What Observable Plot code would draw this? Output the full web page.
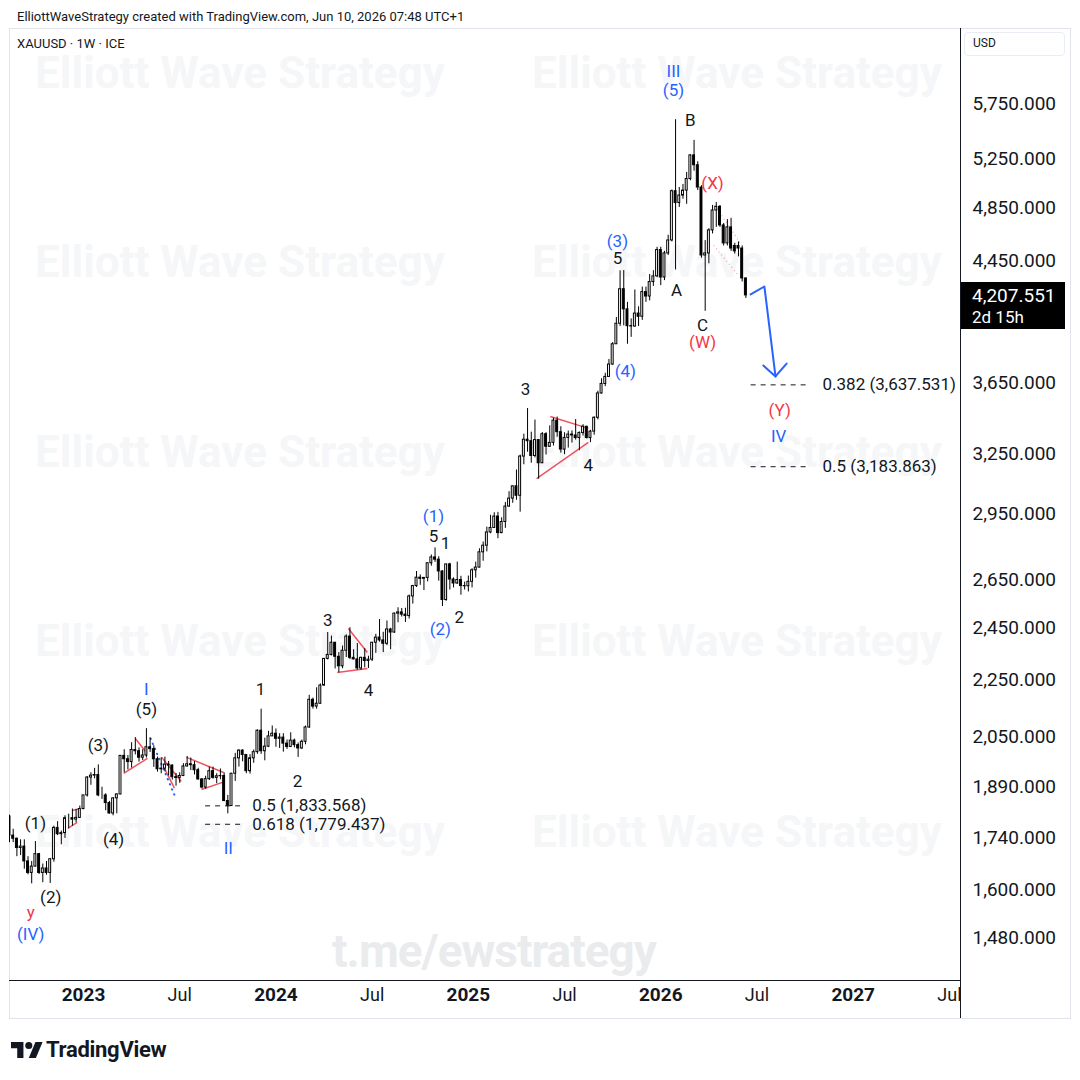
<!DOCTYPE html>
<html>
<head>
<meta charset="utf-8">
<script src="https://cdn.jsdelivr.net/npm/d3@7"></script>
<script src="https://cdn.jsdelivr.net/npm/@observablehq/plot@0.6"></script>
<style>
html,body{margin:0;padding:0;background:#fff;}
#root{position:relative;width:1080px;height:1080px;overflow:hidden;background:#fff;font-family:Roboto,"Liberation Sans",Arial,sans-serif;color:#131722;}
.abs{position:absolute;}
.wm{position:absolute;font-weight:700;font-size:44px;color:#f5f6f8;white-space:nowrap;transform:translate(-50%,-50%);z-index:0;}
.tg{position:absolute;font-weight:700;font-size:46px;color:#eaebed;white-space:nowrap;transform:translate(-50%,-50%);letter-spacing:-1px;z-index:0;}
#plotwrap{position:absolute;left:9px;top:28px;z-index:1;}
</style>
</head>
<body>
<div id="root">
  <div class="abs" style="left:17px;top:9px;font-size:13px;line-height:16px;white-space:nowrap;">ElliottWaveStrategy created with TradingView.com, Jun 10, 2026 07:48 UTC+1</div>
  <div class="abs" style="left:9px;top:28px;width:1060px;height:989px;border:1px solid #e0e3eb;"></div>
  <div class="abs" style="left:17px;top:36px;font-size:13px;line-height:16px;white-space:nowrap;">XAUUSD · 1W · ICE</div>
  <div class="abs" style="left:964px;top:32px;width:99px;height:22px;border:1px solid #e9ecf2;border-radius:4px;"></div>
  <div class="abs" style="left:973px;top:36px;font-size:12px;line-height:14px;">USD</div>
  <div class="wm" style="left:240px;top:73px;">Elliott Wave Strategy</div>
  <div class="wm" style="left:737px;top:73px;">Elliott Wave Strategy</div>
  <div class="wm" style="left:240px;top:262px;">Elliott Wave Strategy</div>
  <div class="wm" style="left:737px;top:262px;">Elliott Wave Strategy</div>
  <div class="wm" style="left:240px;top:452px;">Elliott Wave Strategy</div>
  <div class="wm" style="left:737px;top:452px;">Elliott Wave Strategy</div>
  <div class="wm" style="left:240px;top:641px;">Elliott Wave Strategy</div>
  <div class="wm" style="left:737px;top:641px;">Elliott Wave Strategy</div>
  <div class="wm" style="left:240px;top:832px;">Elliott Wave Strategy</div>
  <div class="wm" style="left:737px;top:832px;">Elliott Wave Strategy</div>
  <div class="tg" style="left:494px;top:951px;">t.me/ewstrategy</div>
  <div class="abs" style="left:9px;top:980px;width:951px;height:1px;background:#131722;z-index:2;"></div>
  <div class="abs" style="left:960px;top:28px;width:1px;height:990px;background:#131722;z-index:2;"></div>
  <div id="plotwrap"></div>
  <div id="pricebox" class="abs" style="left:961px;width:104px;height:47px;background:#000;color:#fff;z-index:3;">
    <div style="position:absolute;left:11px;top:3px;font-size:19px;line-height:22px;">4,207.551</div>
    <div style="position:absolute;left:11px;top:25px;font-size:17px;line-height:20px;">2d 15h</div>
  </div>
  <div class="abs" style="left:11px;top:1041px;width:32px;height:18px;">
    <svg width="32" height="18" viewBox="0 3 36 20"><path d="M14 22H7V11H0V4h14v18z" fill="#131722"/><path d="M28 22h-8l7.5-18h8L28 22z" fill="#131722"/><circle cx="20" cy="8" r="4" fill="#131722"/></svg>
  </div>
  <div class="abs" style="left:46px;top:1036px;font-size:22px;font-weight:700;line-height:28px;letter-spacing:-0.3px;">TradingView</div>
</div>
<script>
// ---------- weekly candles, XAUUSD 1W (first week starts 2022-08-15) ----------
const firstWeek = "2022-08-15";
const opens = [
1802,1747,1738,1712,1716,1675,1644,1661,1695,1644,1656,1644,1681,1769,1751,1754,1797,1797,1793,1798,
1824,1865,1920,1926,1928,1865,1865,1842,1811,1856,1868,1989,1978,1969,2008,2004,1983,1990,2017,2011,1978,1946,1948,1961,1958,1921,1919,1925,1955,1962,1959,1943,1914,1889,1915,1940,1919,1924,1925,1848,1833,1932,1981,2006,1992,1940,1981,2001,2072,2004,2019,2053,
2062,2045,2049,2029,2018,2039,2024,2013,2035,2083,2179,2155,2165,2230,2329,2344,2391,2337,2301,2360,2415,2333,2327,2293,2333,2321,2326,2391,2411,2400,2387,2443,2431,2507,2512,2503,2497,2578,2622,2658,2653,2657,2721,2747,2737,2685,2563,2716,2650,2633,2648,2622,2621,
2640,2690,2702,2770,2800,2861,2882,2936,2858,2910,2984,3023,3084,3037,3237,3327,3319,3240,3325,3202,3357,3289,3310,3432,3368,3274,3337,3355,3350,3336,3363,3398,3336,3371,3448,3587,3643,3685,3760,3886,4018,4250,4113,4002,4000,4085,4064,4230,4200,4300,4340,4530,
4332,4505,4601,4985,4890,4950,4990,5085,5284,5200,5015,4490,4505,4677,4831,4860,4715,4579,4700,4560,4560,4541,4325];
const highs = [
1806,1765,1740,1735,1735,1688,1675,1730,1697,1668,1675,1682,1774,1787,1760,1804,1809,1824,1823,1833,
1865,1923,1935,1949,1960,1890,1870,1847,1858,1870,1989,2009,1990,2032,2049,2015,2009,2079,2048,2022,1985,1983,1985,1971,1960,1933,1935,1964,1987,1982,1971,1949,1917,1924,1953,1953,1932,1947,1935,1865,1933,1997,2009,2009,1992,1993,2008,2075,2146,2047,2070,2088,
2078,2062,2062,2041,2065,2044,2031,2041,2088,2195,2185,2222,2236,2330,2431,2417,2392,2353,2378,2422,2450,2364,2388,2335,2368,2339,2392,2424,2483,2432,2477,2448,2509,2531,2528,2529,2584,2625,2685,2670,2657,2722,2758,2790,2750,2688,2716,2721,2657,2726,2664,2639,2665,
2697,2726,2786,2817,2886,2942,2954,2956,2930,3004,3057,3086,3167,3245,3357,3500,3368,3435,3326,3366,3365,3403,3446,3452,3398,3365,3374,3375,3438,3370,3409,3400,3378,3453,3600,3674,3707,3791,3897,4059,4379,4381,4160,4050,4245,4130,4265,4265,4353,4380,4550,4550,
4520,4640,4995,5600,5015,5040,5140,5290,5415,5230,5030,4600,4690,4871,4894,4870,4730,4760,4770,4580,4590,4560,4330];
const lows = [
1727,1727,1688,1691,1654,1639,1615,1660,1640,1618,1638,1616,1673,1747,1721,1739,1766,1774,1784,1797,
1822,1860,1896,1916,1861,1853,1819,1809,1804,1810,1867,1935,1944,1950,1992,1969,1974,1982,2000,1952,1937,1932,1938,1925,1912,1893,1902,1923,1953,1942,1928,1912,1885,1884,1911,1915,1901,1913,1846,1810,1833,1908,1953,1970,1932,1931,1965,1994,1994,1973,2016,2053,
2017,2013,2001,2010,2016,2015,1984,2010,2025,2080,2146,2146,2163,2228,2325,2340,2291,2277,2292,2334,2326,2325,2287,2286,2295,2293,2319,2350,2393,2353,2380,2364,2428,2470,2493,2471,2485,2546,2616,2625,2603,2640,2708,2725,2643,2536,2558,2605,2614,2629,2583,2605,2597,
2614,2656,2700,2730,2772,2855,2880,2832,2855,2880,2981,3000,3015,2957,3194,3260,3202,3230,3120,3200,3245,3285,3293,3340,3255,3247,3282,3309,3325,3268,3347,3331,3311,3351,3436,3583,3627,3684,3755,3885,4000,4004,3886,3930,3995,4000,4040,4160,4170,4270,4330,4275,
4310,4490,4590,4385,4855,4920,4880,5070,5150,4990,4470,4100,4430,4650,4700,4700,4560,4560,4520,4500,4480,4300,4187];
const closes = [
1747,1738,1712,1716,1675,1644,1661,1695,1644,1656,1644,1681,1769,1751,1754,1797,1797,1793,1798,1824,
1865,1920,1926,1928,1865,1865,1842,1811,1856,1868,1989,1978,1969,2008,2004,1983,1990,2017,2011,1978,1946,1948,1961,1958,1921,1919,1925,1955,1962,1959,1943,1914,1889,1915,1940,1919,1924,1925,1848,1833,1932,1981,2006,1992,1940,1981,2001,2072,2004,2019,2053,2062,
2045,2049,2029,2018,2039,2024,2013,2035,2083,2179,2155,2165,2230,2329,2344,2391,2337,2301,2360,2415,2333,2327,2293,2333,2321,2326,2391,2411,2400,2387,2443,2431,2507,2512,2503,2497,2578,2622,2658,2653,2657,2721,2747,2737,2685,2563,2716,2650,2633,2648,2622,2621,2640,
2690,2702,2770,2800,2861,2882,2936,2858,2910,2984,3023,3084,3037,3237,3327,3319,3240,3325,3202,3357,3289,3310,3432,3368,3274,3337,3355,3350,3336,3363,3398,3336,3371,3448,3587,3643,3685,3760,3886,4018,4250,4113,4002,4000,4085,4064,4230,4200,4300,4340,4530,4332,
4505,4601,4985,4890,4950,4990,5085,5284,5200,5015,4490,4505,4677,4831,4860,4715,4579,4700,4541,4520,4541,4325,4207.551];
const lastPrice = 4207.551;

// ---------- axes ----------
const viewStart = "2022-08-15", viewEnd = "2027-07-19";
const priceMin = 1380, priceMax = 6496;
const yTicks = [1480,1600,1740,1890,2050,2250,2450,2650,2950,3250,3650,4450,4850,5250,5750];
const yearTickDates = ["2023-01-02","2024-01-01","2024-12-30","2025-12-29","2026-12-28"];
const yearTickLabels = ["2023","2024","2025","2026","2027"];
const monthTickDates = ["2023-07-03","2024-07-01","2025-06-30","2026-06-29","2027-06-28"];
const monthTickLabels = ["Jul","Jul","Jul","Jul","Jul"];

// ---------- wave labels [date, price, text] ----------
const blackLabels = [
["2022-10-03",1782,"(1)"],["2022-11-01",1580,"(2)"],["2023-01-30",2023,"(3)"],["2023-02-28",1736,"(4)"],["2023-05-01",2145,"(5)"],
["2023-12-03",2216,"1"],["2024-02-11",1908,"2"],["2024-04-08",2479,"3"],["2024-06-24",2213,"4"],
["2024-10-25",2843,"5"],["2024-11-17",2811,"1"],["2024-12-13",2492,"2"],["2025-04-17",3611,"3"],["2025-08-14",3191,"4"],["2025-10-08",4468,"5"],
["2026-02-23",5593,"B"],["2026-01-28",4242,"A"],["2026-03-18",4007,"C"]];
const blueLabels = [
["2023-05-01",2216,"I"],["2023-10-03",1711,"II"],["2024-10-25",2936,"(1)"],["2024-11-07",2443,"(2)"],
["2025-10-08",4594,"(3)"],["2025-10-23",3718,"(4)"],["2026-01-22",6057,"III"],["2026-01-22",5873,"(5)"],
["2026-08-09",3345,"IV"],["2022-09-24",1488,"(IV)"]];
const redLabels = [
["2022-09-24",1542,"y"],["2026-04-06",5048,"(X)"],["2026-03-18",3897,"(W)"],["2026-08-11",3490,"(Y)"]];

// ---------- fibonacci levels ----------
const fibRatios = ["0.5","0.618","0.382","0.5"];
const fibPrices = [1833.568,1779.437,3637.531,3183.863];
const fibFrom = ["2023-08-20","2023-08-20","2026-06-17","2026-06-17"];
const fibTo = ["2023-10-29","2023-10-29","2026-10-08","2026-10-08"];
const fibTextAt = ["2023-11-17","2023-11-17","2026-10-31","2026-10-31"];

// ---------- drawings [date1, price1, date2, price2] ----------
const redTriangleLines = [
["2023-04-10",2046,"2023-05-01",2000],["2023-03-19",1933,"2023-05-03",1981],
["2023-05-30",1984,"2023-07-06",1908],["2023-06-04",1949,"2023-06-23",1887],
["2023-07-16",1984,"2023-09-24",1936],["2023-08-13",1883,"2023-09-22",1905],
["2024-05-17",2447,"2024-06-22",2353],["2024-04-26",2278,"2024-06-22",2293],
["2025-06-03",3455,"2025-08-14",3389],["2025-05-08",3123,"2025-08-14",3312],
["2022-12-04",1768,"2022-12-21",1785],["2022-12-12",1820,"2022-12-27",1826]];
const blueDottedLines = [["2023-05-09",2046,"2023-06-25",1859]];
const pinkDottedLines = [["2026-04-10",4871,"2026-05-29",4579],["2026-04-08",4564,"2026-05-25",4347]];
const arrowPath = [["2026-06-17",4214],["2026-07-13",4269],["2026-08-03",3688]];
const arrowHead = [["2026-07-11",3754],["2026-08-03",3688],["2026-08-24",3766]];

// ---------- build ----------
const parse = d3.utcParse("%Y-%m-%d");
const start = parse(firstWeek);
const candles = opens.map((o, i) => ({
  date: d3.utcDay.offset(start, 7 * i), open: o, high: highs[i], low: lows[i], close: closes[i]
}));
const toLab = a => a.map(d => ({date: parse(d[0]), price: d[1], text: d[2]}));
const toSeg = a => a.map(d => ({d1: parse(d[0]), p1: d[1], d2: parse(d[2]), p2: d[3]}));
const toPts = a => a.map(d => ({date: parse(d[0]), price: d[1]}));
const fmt3 = d3.format(",.3f");
const fibs = fibPrices.map((p, i) => ({
  price: p, d1: parse(fibFrom[i]), d2: parse(fibTo[i]), dt: parse(fibTextAt[i]),
  text: `${fibRatios[i]} (${fmt3(p)})`
}));
const years = yearTickDates.map((d, i) => ({date: parse(d), text: yearTickLabels[i]}));
const months = monthTickDates.map((d, i) => ({date: parse(d), text: monthTickLabels[i]}));

const labelFont = 17;
const chart = Plot.plot({
  width: 1061, height: 990,
  marginLeft: 0, marginRight: 110, marginTop: 0, marginBottom: 38,
  style: {background: "transparent", fontFamily: "Roboto, 'Liberation Sans', Arial, sans-serif", fontSize: "17px", color: "#131722", overflow: "visible"},
  x: {type: "utc", domain: [parse(viewStart), parse(viewEnd)], axis: null},
  y: {type: "log", domain: [priceMin, priceMax], axis: null},
  marks: [
    Plot.link(toSeg(redTriangleLines), {x1: "d1", y1: "p1", x2: "d2", y2: "p2", stroke: "#f0525e", strokeWidth: 1.5}),
    Plot.link(toSeg(blueDottedLines), {x1: "d1", y1: "p1", x2: "d2", y2: "p2", stroke: "#2962ff", strokeWidth: 2, strokeDasharray: "0.5,5", strokeLinecap: "round"}),
    Plot.link(toSeg(pinkDottedLines), {x1: "d1", y1: "p1", x2: "d2", y2: "p2", stroke: "#f23645", strokeOpacity: 0.45, strokeWidth: 1.2, strokeDasharray: "1,3"}),
    Plot.ruleX(candles, {x: "date", y1: "low", y2: "high", stroke: "#000", strokeWidth: 1, clip: true}),
    Plot.rect(candles, {
      x1: d => d3.utcHour.offset(d.date, -44), x2: d => d3.utcHour.offset(d.date, 44),
      y1: "open", y2: "close",
      fill: d => d.close >= d.open ? "#ffffff" : "#000000",
      stroke: "#000", strokeWidth: 1, clip: true
    }),
    Plot.link(fibs, {x1: "d1", x2: "d2", y1: "price", y2: "price", stroke: "#131722", strokeWidth: 1, strokeDasharray: "5,5"}),
    Plot.text(fibs, {x: "dt", y: "price", text: "text", textAnchor: "start", fill: "#131722", fontSize: labelFont}),
    Plot.line(toPts(arrowPath), {x: "date", y: "price", stroke: "#2962ff", strokeWidth: 2}),
    Plot.line(toPts(arrowHead), {x: "date", y: "price", stroke: "#2962ff", strokeWidth: 2}),
    Plot.text(toLab(blackLabels), {x: "date", y: "price", text: "text", fill: "#131722", fontSize: labelFont}),
    Plot.text(toLab(blueLabels), {x: "date", y: "price", text: "text", fill: "#2962ff", fontSize: labelFont}),
    Plot.text(toLab(redLabels), {x: "date", y: "price", text: "text", fill: "#f23645", fontSize: labelFont}),
    Plot.axisY({ticks: yTicks, anchor: "right", tickFormat: fmt3, tickSize: 0, tickPadding: 12, fontSize: 19, fill: "#131722", label: null}),
    Plot.text(years, {x: "date", text: "text", frameAnchor: "bottom", dy: 20, fontWeight: "bold", fontSize: 19, fill: "#131722"}),
    Plot.text(months, {x: "date", text: "text", frameAnchor: "bottom", dy: 20, fontSize: 18, fill: "#131722"})
  ]
});
document.getElementById("plotwrap").appendChild(chart);
const yPix = 28 + chart.scale("y").apply(lastPrice);
document.getElementById("pricebox").style.top = (yPix - 13) + "px";
</script>
</body>
</html>
